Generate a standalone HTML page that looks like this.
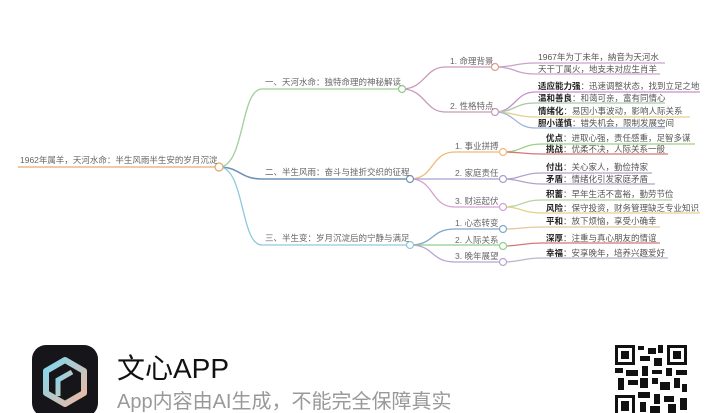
<!DOCTYPE html>
<html><head><meta charset="utf-8"><style>
html,body{margin:0;padding:0;background:#fff;width:719px;height:413px;overflow:hidden}
svg{display:block}
text{font-family:"Liberation Sans","Noto Sans CJK SC",sans-serif}
.t{font-size:8.5px;fill:#666}
.l{font-size:8.5px;fill:#555}
.b{font-weight:bold;fill:#222}
</style></head><body>
<svg width="719" height="413" viewBox="0 0 719 413" xmlns="http://www.w3.org/2000/svg">
<g fill="none" stroke-width="1.3">
<path d="M18 167H219" stroke="#e8b88a" stroke-width="1.6"/>
<path d="M219 167C245 167 240 89 262 89H402" stroke="#9fcf9a"/>
<path d="M219 167C240 167 240 179 262 179H410" stroke="#6f93b5" stroke-width="1.6"/>
<path d="M219 167C245 167 240 245 262 245H410" stroke="#8fc9da"/>
<path d="M402 89C425 89 425 67 445 67H495" stroke="#c99ab6"/>
<path d="M402 89C425 89 425 112 445 112H495" stroke="#c99ab6"/>
<path d="M495 67C515 67 515 63 535 63H665" stroke="#c9a3c9"/>
<path d="M495 67C515 67 515 74 535 74H660" stroke="#c9a3c9"/>
<path d="M495 112C515 112 515 92 535 92H700" stroke="#c98fc9"/>
<path d="M495 112C515 112 515 103 535 103H665" stroke="#a7c9a7"/>
<path d="M495 112C515 112 515 117 535 117H690" stroke="#e2d28a"/>
<path d="M495 112C515 112 515 128 535 128H665" stroke="#9fb8d9"/>
<path d="M410 179C435 179 430 152 455 152H503" stroke="#f0b878"/>
<path d="M410 179H503" stroke="#a89fcf"/>
<path d="M410 179C435 179 430 207 455 207H503" stroke="#d2a3d2"/>
<path d="M503 152C522 152 522 144 542 144H695" stroke="#9fcf8a"/>
<path d="M503 152C522 152 522 154 542 154H668" stroke="#d27878"/>
<path d="M503 179C522 179 522 173 542 173H652" stroke="#b2a3c9"/>
<path d="M503 179C522 179 522 184 542 184H655" stroke="#b2a3c9"/>
<path d="M503 207C522 207 522 200 542 200H672" stroke="#b8d29f"/>
<path d="M503 207C522 207 522 213 542 213H700" stroke="#e2d28a"/>
<path d="M410 245C435 245 430 229 455 229H503" stroke="#7fa8c9"/>
<path d="M410 245H503" stroke="#8fcf8f"/>
<path d="M410 245C435 245 430 262 455 262H503" stroke="#b8a3d2"/>
<path d="M503 229C522 229 522 227 542 227H660" stroke="#e2c89f"/>
<path d="M503 246C522 246 522 243 542 243H660" stroke="#d27878"/>
<path d="M503 262C522 262 522 258 542 258H668" stroke="#b8b8c9"/>
</g>
<g fill="#fff" stroke-width="1.2">
<circle cx="219" cy="167" r="4" stroke="#d9a870"/>
<circle cx="402" cy="89" r="3.5" stroke="#8fc98a"/>
<circle cx="410" cy="179" r="3.5" stroke="#6f93b5"/>
<circle cx="410" cy="245" r="3.5" stroke="#8fc9da"/>
<circle cx="495" cy="67" r="3.5" stroke="#d9a08a"/>
<circle cx="495" cy="112" r="3.5" stroke="#c99ab6"/>
<circle cx="503" cy="152" r="3.5" stroke="#f0b878"/>
<circle cx="503" cy="179" r="3.5" stroke="#a89fcf"/>
<circle cx="503" cy="207" r="3.5" stroke="#d2a3d2"/>
<circle cx="503" cy="229" r="3.5" stroke="#7fa8c9"/>
<circle cx="503" cy="246" r="3.5" stroke="#8fcf8f"/>
<circle cx="503" cy="262" r="3.5" stroke="#b8a3d2"/>
</g>
<text x="20" y="163" class="t">1962年属羊，天河水命：半生风雨半生安的岁月沉淀</text>
<text x="265" y="85" class="t">一、天河水命：独特命理的神秘解读</text>
<text x="265" y="175" class="t">二、半生风雨：奋斗与挫折交织的征程</text>
<text x="265" y="241" class="t">三、半生变：岁月沉淀后的宁静与满足</text>
<text x="450" y="64" class="t">1. 命理背景</text>
<text x="450" y="109" class="t">2. 性格特点</text>
<text x="455" y="149" class="t">1. 事业拼搏</text>
<text x="455" y="176" class="t">2. 家庭责任</text>
<text x="455" y="204" class="t">3. 财运起伏</text>
<text x="455" y="226" class="t">1. 心态转变</text>
<text x="455" y="243" class="t">2. 人际关系</text>
<text x="455" y="259" class="t">3. 晚年展望</text>
<text x="538" y="60" class="l">1967年为丁未年，納音为天河水</text>
<text x="538" y="72" class="l">天干丁属火，地支未对应生肖羊</text>
<text x="538" y="89" class="l"><tspan class="b">适应能力强</tspan>：迅速调整状态，找到立足之地</text>
<text x="538" y="101" class="l"><tspan class="b">温和善良</tspan>：和蔼可亲，富有同情心</text>
<text x="538" y="114" class="l"><tspan class="b">情绪化</tspan>：易因小事波动，影响人际关系</text>
<text x="538" y="126" class="l"><tspan class="b">胆小谨慎</tspan>：错失机会，限制发展空间</text>
<text x="546" y="141" class="l"><tspan class="b">优点</tspan>：进取心强，责任感重，足智多谋</text>
<text x="546" y="152" class="l"><tspan class="b">挑战</tspan>：优柔不决，人际关系一般</text>
<text x="546" y="170" class="l"><tspan class="b">付出</tspan>：关心家人，勤俭持家</text>
<text x="546" y="182" class="l"><tspan class="b">矛盾</tspan>：情绪化引发家庭矛盾</text>
<text x="546" y="197" class="l"><tspan class="b">积蓄</tspan>：早年生活不富裕，勤劳节俭</text>
<text x="546" y="211" class="l"><tspan class="b">风险</tspan>：保守投资，财务管理缺乏专业知识</text>
<text x="546" y="224" class="l"><tspan class="b">平和</tspan>：放下烦恼，享受小确幸</text>
<text x="546" y="241" class="l"><tspan class="b">深厚</tspan>：注重与真心朋友的情谊</text>
<text x="546" y="256" class="l"><tspan class="b">幸福</tspan>：安享晚年，培养兴趣爱好</text>
<defs><linearGradient id="g" x1="0" y1="0" x2="1" y2="1"><stop offset="0" stop-color="#7fd8f0"/><stop offset="1" stop-color="#f0b8a0"/></linearGradient></defs>
<rect x="32" y="345" width="66" height="72" rx="14" fill="#16161a"/>
<path d="M65 360L84 371V393L65 404L46 393V371Z" fill="none" stroke="url(#g)" stroke-width="6" stroke-linejoin="round"/>
<path d="M58 396V380L72 372" fill="none" stroke="url(#g)" stroke-width="5"/>
<text x="117" y="378" style="font-size:28px;fill:#111">文心APP</text>
<text x="117" y="408" style="font-size:20px;fill:#999">App内容由AI生成，不能完全保障真实</text>
<g fill="#111">
<rect x="614" y="344" width="74" height="69" fill="#fff"/>
<rect x="615" y="345" width="20" height="20"/><rect x="618" y="348" width="14" height="14" fill="#fff"/><rect x="621" y="351" width="8" height="8"/>
<rect x="667" y="345" width="20" height="20"/><rect x="670" y="348" width="14" height="14" fill="#fff"/><rect x="673" y="351" width="8" height="8"/>
<rect x="615" y="395" width="20" height="18"/><rect x="618" y="398" width="14" height="15" fill="#fff"/><rect x="621" y="401" width="8" height="10"/>
<rect x="638" y="346" width="6" height="4"/><rect x="648" y="348" width="8" height="6"/><rect x="658" y="345" width="5" height="8"/>
<rect x="640" y="356" width="10" height="5"/><rect x="654" y="358" width="8" height="8"/>
<rect x="615" y="368" width="8" height="5"/><rect x="626" y="370" width="12" height="6"/><rect x="642" y="366" width="6" height="10"/>
<rect x="652" y="370" width="10" height="4"/><rect x="666" y="368" width="6" height="8"/><rect x="676" y="370" width="11" height="5"/>
<rect x="618" y="378" width="6" height="12"/><rect x="628" y="380" width="10" height="5"/><rect x="640" y="378" width="8" height="10"/>
<rect x="652" y="378" width="6" height="6"/><rect x="660" y="382" width="10" height="8"/><rect x="674" y="378" width="6" height="10"/><rect x="682" y="384" width="5" height="8"/>
<rect x="638" y="392" width="12" height="6"/><rect x="654" y="394" width="6" height="10"/><rect x="664" y="396" width="10" height="6"/>
<rect x="640" y="402" width="6" height="10"/><rect x="650" y="406" width="10" height="7"/><rect x="668" y="404" width="8" height="9"/><rect x="680" y="398" width="7" height="12"/>
</g>
</svg>
</body></html>
